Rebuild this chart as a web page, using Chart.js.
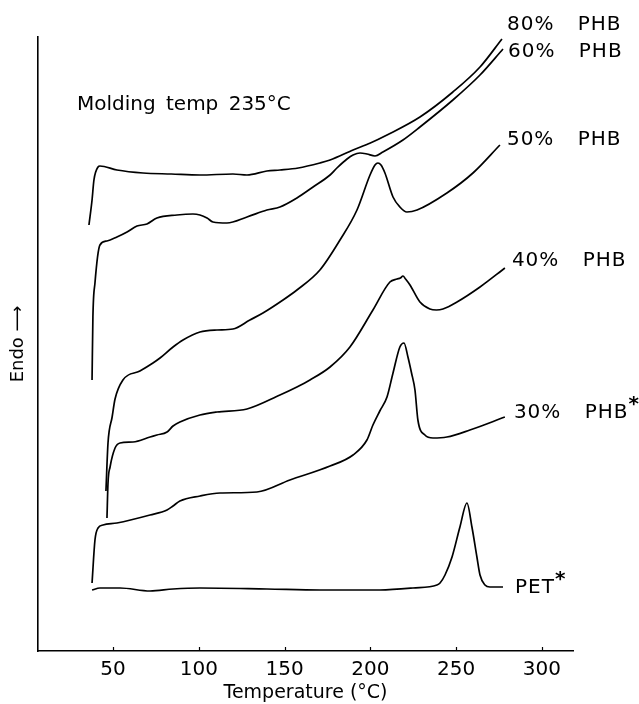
<!DOCTYPE html>
<html><head><meta charset="utf-8">
<script src="https://cdn.jsdelivr.net/npm/chart.js@4.4.1/dist/chart.umd.min.js"></script>
<style>html,body{margin:0;padding:0;background:#fff;}canvas{display:block;}</style>
</head><body>
<canvas id="c" width="639" height="704"></canvas>
<script>
// ---- data (temperature in °C, endotherm signal in arbitrary units) ----
const xTicks = [50, 100, 150, 200, 250, 300];
const seriesLabels = ['80% PHB', '60% PHB', '50% PHB', '40% PHB', '30% PHB', 'PET'];
const seriesStars = [false, false, false, false, true, true];
const noteText = 'Molding temp 235°C';
const xTitle = 'Temperature (°C)';
const yTitle = 'Endo ⟶';

const t80 = [36.0, 37.8, 38.9, 41.3, 42.4, 52.3, 67.5, 84, 100.7, 119.9, 128.1, 139.7, 147.3, 158, 170.6, 176.5, 189.9, 200, 209.7, 228.9, 248.1, 263.9, 276.7];
const v80 = [426, 451, 471, 484, 485, 481, 478, 477, 476, 477, 476, 480, 481, 483, 488, 491, 501, 508, 516, 534, 559, 584, 612];

const t60 = [37.8, 38.3, 39.5, 42.4, 46.5, 52.3, 58.2, 64.0, 69.8, 75.6, 87.3, 96.6, 100.7, 104.8, 108.3, 116.4, 128.1, 139.7, 147.3, 157.2, 166.6, 176.5, 180.5, 186.4, 189.9, 194, 198, 202.7, 207.3, 219.0, 228.9, 248.1, 263.9, 277.3];
const v60 = [271, 334, 368, 406, 410, 414, 419, 425, 427, 433, 436, 437, 436, 433, 429, 428, 434, 441, 444, 453, 464, 476, 483, 492, 496, 498, 497, 495, 499, 511, 524, 551, 576, 602];

const t50 = [45.9, 47.1, 49.5, 51.2, 55.8, 65.7, 73.3, 77.4, 85.0, 90.8, 100.7, 110.6, 119.9, 129.8, 137.4, 149.1, 157.2, 170.6, 182.3, 192.2, 199.8, 202.7, 204.4, 206.2, 208.5, 213.2, 217.2, 221.3, 227.2, 244.6, 259.8, 275.5];
const v50 = [160, 208, 234, 252, 271, 280, 288, 293, 304, 311, 319, 321, 322, 331, 338, 351, 361, 381, 411, 441, 476, 486, 488, 486, 478, 454, 444, 439, 441, 458, 478, 506];

const t40 = [46.5, 47.1, 48.3, 51.2, 54.1, 61.7, 71.6, 75.6, 81.5, 85.0, 89.0, 100.7, 110.6, 128.1, 147.3, 157.2, 164.8, 176.5, 188.1, 201.5, 211.4, 215.5, 217.5, 219.0, 220.5, 223.1, 228.9, 234.7, 238.5, 242.3, 250.5, 263.9, 278.4];
const v40 = [133, 168, 184, 203, 208, 209, 214, 216, 219, 225, 229, 236, 239, 242, 256, 264, 271, 284, 304, 341, 369, 372, 373, 375, 372, 366, 349, 342, 341, 342, 349, 364, 383];

const t30 = [37.8, 39.5, 41.3, 44.2, 52.3, 71.6, 81.5, 85.0, 89.0, 100.7, 112.4, 133.9, 153.1, 176.5, 189.9, 198.0, 201.5, 205.5, 209.7, 213.2, 217.2, 219.6, 221.9, 224, 226.0, 227.7, 231.8, 236.5, 244.6, 258.0, 278.4];
const v30 = [68, 111, 123, 126, 128, 136, 141, 145, 150, 155, 158, 159, 171, 185, 196, 211, 226, 240, 254, 278, 304, 308, 294, 278, 261, 231, 216, 213, 214, 221, 234];

const tPET = [37.8, 42.4, 54.1, 71.6, 85.0, 100.7, 139.7, 170.6, 205.6, 224.8, 238.8, 240.6, 243.5, 247.6, 252.2, 256.3, 259.2, 262.1, 263.9, 266.8, 269.7, 277.3];
const vPET = [61, 63, 63, 60, 62, 63, 62, 61, 61, 63, 66, 68, 76, 94, 124, 148, 124, 94, 76, 66, 64, 64];

const seriesT = [t80, t60, t50, t40, t30, tPET];
const seriesV = [v80, v60, v50, v40, v30, vPET];

// ---- styling (not data) ----
const FONT = '"DejaVu Sans", "Liberation Sans", sans-serif';
const labelOffsets = [
  {dx: 5, dy: -14}, {dx: 5, dy: 3}, {dx: 7, dy: -5},
  {dx: 7, dy: -7}, {dx: 9, dy: -4}, {dx: 12, dy: 1}
];
const notePos = {t: 29, v: 546};

const curveLabels = {
  id: 'curveLabels',
  afterDraw(chart) {
    const ctx = chart.ctx, xs = chart.scales.x, ys = chart.scales.y;
    ctx.save();
    ctx.fillStyle = '#000';
    ctx.textBaseline = 'middle';
    ctx.textAlign = 'left';
    seriesT.forEach((t, i) => {
      const n = t.length - 1;
      const px = xs.getPixelForValue(t[n]) + labelOffsets[i].dx;
      const py = ys.getPixelForValue(seriesV[i][n]) + labelOffsets[i].dy;
      ctx.font = '20px ' + FONT;
      try { ctx.letterSpacing = '1px'; ctx.wordSpacing = '16px'; } catch (e) {}
      ctx.fillText(seriesLabels[i], px, py);
      const w = ctx.measureText(seriesLabels[i]).width;
      if (seriesStars[i]) {
        ctx.font = 'bold 20px ' + FONT;
        ctx.fillText('*', px + w, py - 8);
      }
    });
    try { ctx.letterSpacing = '0px'; ctx.wordSpacing = '4px'; } catch (e) {}
    ctx.font = '20px ' + FONT;
    ctx.fillText(noteText, xs.getPixelForValue(notePos.t), ys.getPixelForValue(notePos.v));
    // inward tick marks on the x axis
    ctx.strokeStyle = '#000';
    ctx.lineWidth = 1.2;
    const base = chart.chartArea.bottom;
    xTicks.forEach(v => {
      const x = Math.round(xs.getPixelForValue(v)) + 0.5;
      ctx.beginPath(); ctx.moveTo(x, base); ctx.lineTo(x, base - 4); ctx.stroke();
    });
    ctx.restore();
  }
};

new Chart(document.getElementById('c'), {
  type: 'line',
  data: {
    datasets: seriesT.map((t, i) => ({
      label: seriesLabels[i],
      data: t.map((x, k) => ({x: x, y: seriesV[i][k]})),
      borderColor: '#000',
      borderWidth: 1.7,
      pointRadius: 0,
      fill: false,
      cubicInterpolationMode: 'monotone'
    }))
  },
  options: {
    responsive: false,
    animation: false,
    devicePixelRatio: 1,
    layout: {padding: {top: 37, right: 66, left: 0, bottom: 0}},
    plugins: {legend: {display: false}, tooltip: {enabled: false}},
    scales: {
      x: {
        type: 'linear', min: 6.3, max: 318.1,
        afterBuildTicks: s => { s.ticks = xTicks.map(v => ({value: v})); },
        afterFit: s => { s.height = 53; },
        grid: {display: false, drawTicks: false},
        border: {display: true, color: '#000', width: 1.6},
        ticks: {color: '#000', font: {family: FONT, size: 20}, padding: 7, maxRotation: 0, autoSkip: false},
        title: {display: true, text: xTitle, color: '#000', font: {family: FONT, size: 19}, padding: {top: 0, bottom: 0}}
      },
      y: {
        min: 0, max: 614,
        afterFit: s => { s.width = 38; },
        grid: {display: false, drawTicks: false},
        border: {display: true, color: '#000', width: 1.6},
        ticks: {display: false},
        title: {display: true, text: yTitle, color: '#000', font: {family: FONT, size: 18}, padding: {top: 8, bottom: 0}}
      }
    }
  },
  plugins: [curveLabels]
});
</script>
</body></html>
